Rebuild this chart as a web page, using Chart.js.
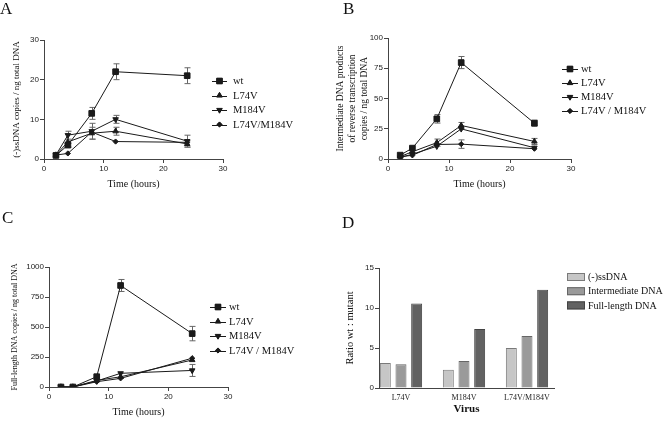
<!DOCTYPE html>
<html>
<head>
<meta charset="utf-8">
<script src="https://cdn.jsdelivr.net/npm/chart.js"></script>
<style>
  body{margin:0;background:#fff;}
  #wrap{position:relative;width:664px;height:421px;overflow:hidden;}
  canvas{position:absolute;}
  .lab{position:absolute;font-family:'Liberation Serif','Times New Roman',serif;font-size:17px;line-height:17px;color:#111;}
</style>
</head>
<body>
<div id="wrap">
  <canvas id="cA" width="330" height="205" style="left:0;top:0"></canvas>
  <canvas id="cB" width="334" height="210" style="left:330px;top:0"></canvas>
  <canvas id="cC" width="330" height="216" style="left:0;top:205px"></canvas>
  <canvas id="cD" width="334" height="216" style="left:330px;top:205px"></canvas>
  <div class="lab" style="left:0;top:0">A</div>
  <div class="lab" style="left:343px;top:0">B</div>
  <div class="lab" style="left:2px;top:209px">C</div>
  <div class="lab" style="left:342px;top:214px">D</div>
</div>
<script>
// time points (hours)
const hours=[2,4,8,12,24];
const seriesNames=['wt','L74V','M184V','L74V/M184V'];
const seriesNamesSpaced=['wt','L74V','M184V','L74V / M184V'];

// A: (-)ssDNA copies / ng total DNA
const ssWt=[0.9,3.5,11.5,22,21];
const ssL74V=[1,4.3,6.5,7,3.8];
const ssM184V=[1,6,7,10,4.5];
const ssDouble=[1,1.4,6.8,4.4,4.2];
const ssWtErr=[0,0.5,1.5,2,2];
const ssL74VErr=[0,0,1.5,1,0.8];
const ssM184VErr=[0,1,2,1,1.5];
const ssDoubleErr=[0,0,0,0,0];

// B: intermediate DNA products
const imWt=[3.2,9,33.2,79.7,29.6];
const imL74V=[2,6,13.5,27.7,14.5];
const imM184V=[1.2,4,10.5,24.9,9.3];
const imDouble=[2,3,12,12.3,8.5];
const imWtErr=[0,0,3.5,5,2.5];
const imL74VErr=[0,0,3,2.5,2.5];
const imM184VErr=[0,0,0,0,0];
const imDoubleErr=[0,0,0,3.5,0];

// C: full-length DNA copies
const flWt=[0,0,86,846,445];
const flL74V=[0,0,55,85,225];
const flM184V=[0,0,50,114,138];
const flDouble=[0,0,44,72,240];
const flWtErr=[0,0,0,50,60];
const flL74VErr=[0,0,0,0,0];
const flM184VErr=[0,0,0,0,50];
const flDoubleErr=[0,0,0,0,0];

// D: ratio wt : mutant
const viruses=['L74V','M184V','L74V/M184V'];
const ratioSs=[3.14,2.27,4.99];
const ratioIm=[2.98,3.36,6.5];
const ratioFl=[10.55,7.37,12.27];

const serif="'Liberation Serif','Times New Roman',serif";
const sans="'Liberation Sans',Arial,sans-serif";
const axisCol='#444';
const ink='#1a1a1a';

const markers=[
  {pointStyle:'rect',radius:4,rotation:0},
  {pointStyle:'triangle',radius:3.2,rotation:0},
  {pointStyle:'triangle',radius:3.2,rotation:180},
  {pointStyle:'rectRot',radius:2.6,rotation:0}
];

const errorBars={
  id:'errorBars',
  beforeDatasetsDraw(chart){
    const ctx=chart.ctx, ys=chart.scales.y;
    chart.data.datasets.forEach((ds,di)=>{
      if(!ds.errors) return;
      const meta=chart.getDatasetMeta(di);
      meta.data.forEach((pt,i)=>{
        const e=ds.errors[i]; if(!e) return;
        const v=ds.data[i].y;
        const top=ys.getPixelForValue(v+e), bot=ys.getPixelForValue(v-e);
        const x=Math.round(pt.x)+0.5;
        ctx.save(); ctx.strokeStyle='#666'; ctx.lineWidth=1;
        ctx.beginPath();
        ctx.moveTo(x,top); ctx.lineTo(x,bot);
        ctx.moveTo(x-3,top); ctx.lineTo(x+3,top);
        ctx.moveTo(x-3,bot); ctx.lineTo(x+3,bot);
        ctx.stroke(); ctx.restore();
      });
    });
  }
};

const sideLegend={
  id:'sideLegend',
  afterDraw(chart,args,o){
    const ctx=chart.ctx;
    ctx.save();
    ctx.font=o.font; ctx.textBaseline='middle';
    chart.data.datasets.forEach((ds,i)=>{
      const y=o.y+i*o.step;
      if(o.kind==='bar'){
        ctx.fillStyle=ds.backgroundColor; ctx.fillRect(o.x,y-4,o.len,8);
        ctx.strokeStyle=ds.borderColor; ctx.lineWidth=1; ctx.strokeRect(o.x+0.5,y-3.5,o.len-1,7);
      }else{
        ctx.strokeStyle=ink; ctx.lineWidth=1;
        ctx.beginPath(); ctx.moveTo(o.x,Math.round(y)+0.5); ctx.lineTo(o.x+o.len,Math.round(y)+0.5); ctx.stroke();
        ctx.fillStyle=ink;
        Chart.helpers.drawPoint(ctx,{pointStyle:ds.pointStyle,radius:ds.pointRadius,rotation:ds.pointRotation,borderWidth:1},o.x+o.len/2,y);
        ctx.fill();
      }
      ctx.fillStyle='#111';
      ctx.fillText(o.labels[i],o.x+o.len+o.gap,y+0.5);
    });
    ctx.restore();
  }
};

function axisBase(){
  return {
    grid:{display:true,drawOnChartArea:false,drawTicks:true,tickLength:4,color:axisCol},
    border:{display:true,color:axisCol,width:1}
  };
}

function linePanel(id,p){
  const vals=p.values, errs=p.errors;
  const datasets=vals.map((v,k)=>({
    label:seriesNames[k],
    data:hours.map((t,i)=>({x:t,y:v[i]})),
    errors:errs[k],
    borderColor:ink,backgroundColor:ink,borderWidth:1,
    pointStyle:markers[k].pointStyle,pointRadius:markers[k].radius,pointRotation:markers[k].rotation,
    pointBackgroundColor:ink,pointBorderColor:ink,pointBorderWidth:1,
    tension:0,fill:false
  }));
  return new Chart(document.getElementById(id),{
    type:'line',
    data:{datasets},
    plugins:[errorBars,sideLegend],
    options:{
      responsive:false,animation:false,devicePixelRatio:1,
      layout:{padding:p.pad,autoPadding:false},
      plugins:{legend:{display:false},tooltip:{enabled:false},
        sideLegend:{x:p.leg.x,y:p.leg.y,step:p.leg.step,len:p.leg.len,gap:p.leg.gap,font:'10.5px '+serif,labels:p.leg.labels}},
      scales:{
        x:Object.assign(axisBase(),{type:'linear',min:0,max:30,
          afterFit(s){s.height=p.xh;},
          ticks:{stepSize:10,padding:1,color:'#222',font:{family:sans,size:8},callback:v=>v},
          title:{display:true,text:'Time (hours)',color:'#111',font:{family:serif,size:10,weight:'normal'},padding:{top:0,bottom:p.xtp}}}),
        y:Object.assign(axisBase(),{min:p.ymin,max:p.ymax,
          afterFit(s){s.width=p.yw;},
          ticks:{stepSize:p.ystep,padding:1,color:'#222',font:{family:sans,size:8},callback:v=>v},
          title:{display:true,text:p.ytitle,color:'#111',font:{family:serif,size:p.yfs,lineHeight:p.ylh,weight:'normal'},padding:{top:p.ytp,bottom:0}}})
      }
    }
  });
}

linePanel('cA',{
  values:[ssWt,ssL74V,ssM184V,ssDouble],errors:[ssWtErr,ssL74VErr,ssM184VErr,ssDoubleErr],
  pad:{left:0,top:40,right:107,bottom:10},xh:36,xtp:5,yw:44,
  ymin:0,ymax:30,ystep:10,ytitle:'(-)ssDNA copies / ng total DNA',yfs:9,ylh:1.2,ytp:11.5,
  leg:{x:212,y:81,step:14.5,len:15,gap:6,labels:seriesNames}
});
linePanel('cB',{
  values:[imWt,imL74V,imM184V,imDouble],errors:[imWtErr,imL74VErr,imM184VErr,imDoubleErr],
  pad:{left:0,top:38,right:93,bottom:15},xh:36,xtp:5,yw:58,
  ymin:0,ymax:100,ystep:25,ytitle:['Intermediate DNA products','of reverse transcription','copies / ng total DNA'],yfs:9.5,ylh:'12px',ytp:4,
  leg:{x:232,y:69,step:14,len:16,gap:3,labels:seriesNamesSpaced}
});
linePanel('cC',{
  values:[flWt,flL74V,flM184V,flDouble],errors:[flWtErr,flL74VErr,flM184VErr,flDoubleErr],
  pad:{left:0,top:62,right:102,bottom:2},xh:32,xtp:1,yw:49,
  ymin:0,ymax:1000,ystep:250,ytitle:'Full-length DNA copies / ng total DNA',yfs:8,ylh:1.2,ytp:10,
  leg:{x:210,y:102,step:14.5,len:16,gap:3,labels:seriesNamesSpaced}
});

// D: bar chart on a linear axis so groups sit where the figure puts them
new Chart(document.getElementById('cD'),{
  type:'bar',
  data:{datasets:[
    {label:'(-)ssDNA',data:ratioSs.map((v,i)=>({x:i,y:v})),backgroundColor:'#c6c6c6',borderColor:'#7a7a7a',borderWidth:1},
    {label:'Intermediate DNA',data:ratioIm.map((v,i)=>({x:i,y:v})),backgroundColor:'#9a9a9a',borderColor:'#666',borderWidth:1},
    {label:'Full-length DNA',data:ratioFl.map((v,i)=>({x:i,y:v})),backgroundColor:'#626262',borderColor:'#444',borderWidth:1}
  ]},
  plugins:[sideLegend],
  options:{
    responsive:false,animation:false,devicePixelRatio:1,
    layout:{padding:{left:0,top:63,right:110,bottom:3},autoPadding:false},
    categoryPercentage:0.746,barPercentage:0.70,
    plugins:{legend:{display:false},tooltip:{enabled:false},
      sideLegend:{kind:'bar',x:237,y:72,step:14.2,len:18,gap:3,font:'10px '+serif,labels:['(-)ssDNA','Intermediate DNA','Full-length DNA']}},
    scales:{
      x:{type:'linear',min:-0.349,max:2.4286,offset:false,
        grid:{display:true,drawOnChartArea:false,drawTicks:false,color:axisCol},
        border:{display:true,color:axisCol,width:1},
        afterBuildTicks(s){s.ticks=viruses.map((c,i)=>({value:i}));},
        afterFit(s){s.height=30;},
        ticks:{padding:5,color:'#222',font:{family:serif,size:8},callback:v=>viruses[v]},
        title:{display:true,text:'Virus',color:'#111',font:{family:serif,size:11,weight:'bold'},padding:{top:0,bottom:2}}},
      y:Object.assign(axisBase(),{min:0,max:15,
        afterFit(s){s.width=49;},
        ticks:{stepSize:5,padding:1,color:'#222',font:{family:sans,size:8},callback:v=>v},
        title:{display:true,text:'Ratio wt : mutant',color:'#111',font:{family:serif,size:10.5,weight:'normal'},padding:{top:13.5,bottom:0}}})
    }
  }
});
</script>
</body>
</html>
